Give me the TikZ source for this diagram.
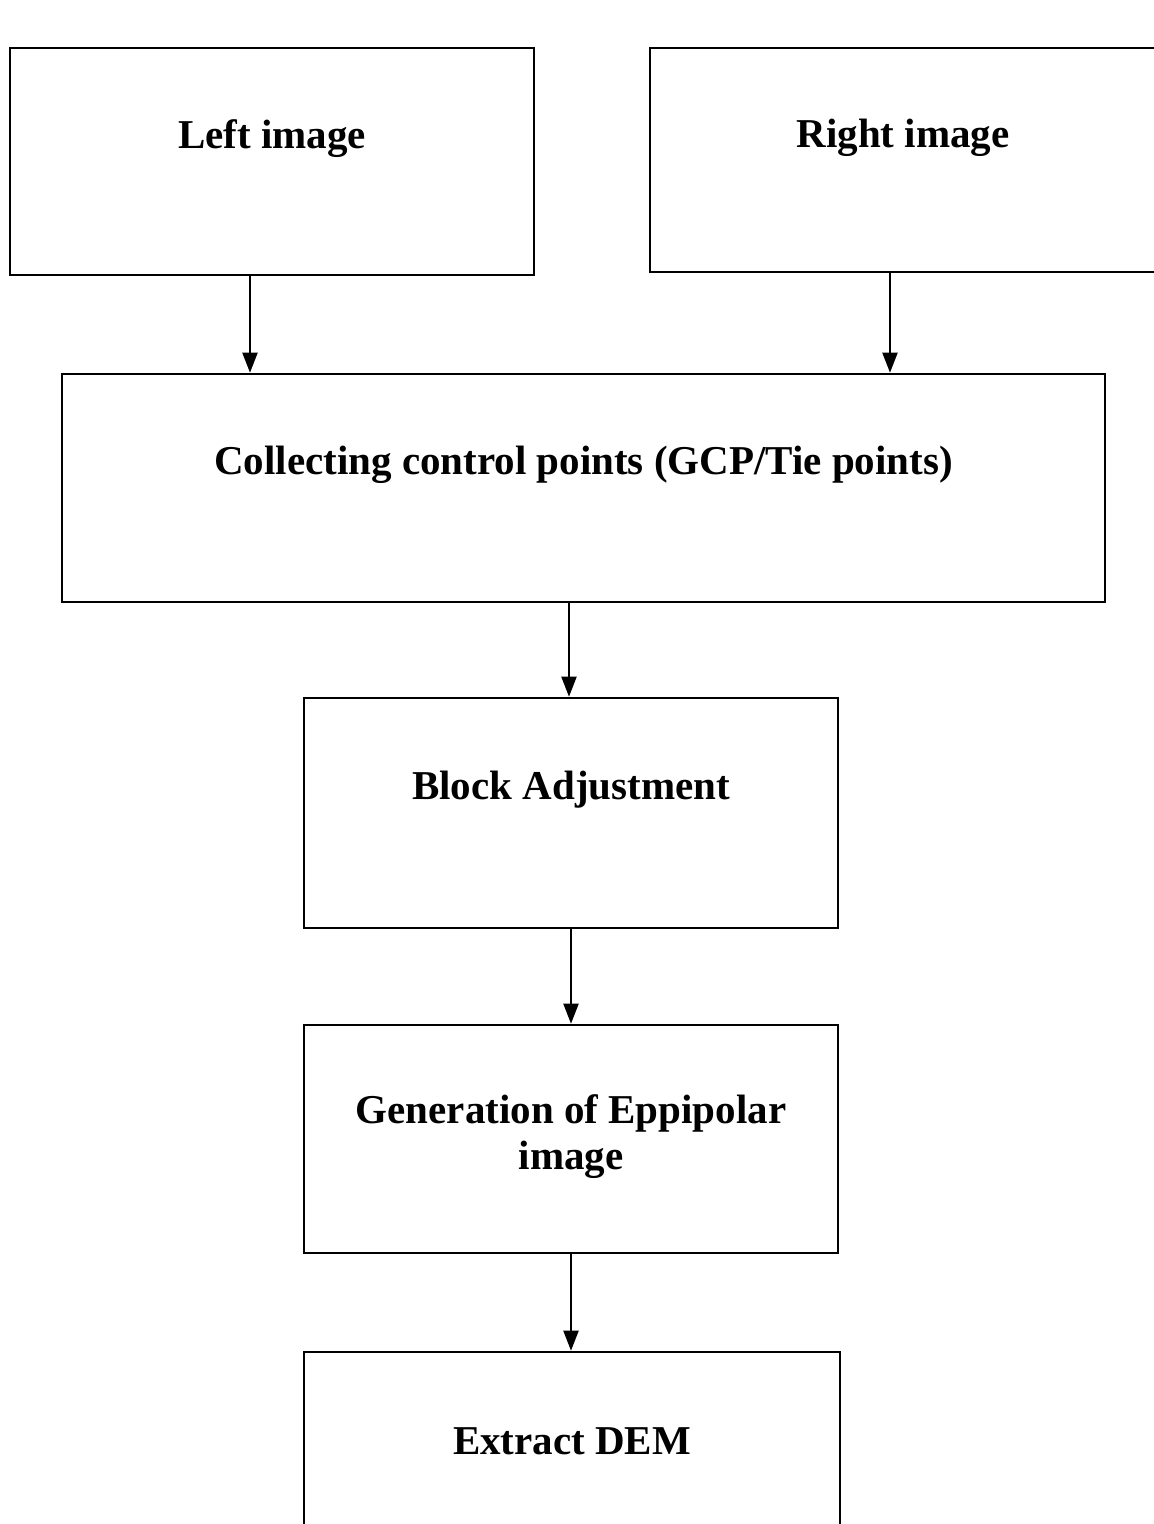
\documentclass[tikz,border=0pt]{standalone}
\usepackage{fontspec}
\setmainfont{Liberation Serif}
\usetikzlibrary{arrows.meta}
\tikzset{
  stage/.style={draw, line width=2.6pt, rectangle, inner sep=0pt},
  stagetext/.style={font=\fontsize{41}{46}\selectfont\bfseries, align=center, inner sep=0pt},
  flow/.style={line width=2pt, -{Triangle[length=20pt,width=15pt]}}
}
\begin{document}
\begin{tikzpicture}[x=1pt,y=-1pt]
    \useasboundingbox (0,0) rectangle (1154,1524);
    \clip (0,0) rectangle (1154,1524);
    % the two input images
    \node [stage, minimum width=524pt, minimum height=227pt,
           label={[stagetext,yshift=23pt]center:Left image}] (left) at (272,161.5) {};
    \node [stage, minimum width=506pt, minimum height=224pt,
           label={[stagetext,yshift=22pt]center:Right image}] (right) at (903,160) {};
    % processing chain
    \node [stage, minimum width=1043pt, minimum height=228pt,
           label={[stagetext,yshift=23pt]center:Collecting control points (GCP/Tie points)}] (collect) at (583.5,488) {};
    \node [stage, minimum width=534pt, minimum height=230pt,
           label={[stagetext,yshift=23pt]center:Block Adjustment}] (adjust) at (571,813) {};
    \node [stage, minimum width=534pt, minimum height=228pt,
           label={[stagetext,yshift=2pt]center:Generation of Eppipolar\\image}] (epipolar) at (571,1139) {};
    \node [stage, minimum width=536pt, minimum height=226pt,
           label={[stagetext,yshift=24pt]center:Extract DEM}] (dem) at (572,1465) {};
    % connectors
    \draw [flow] ([xshift=-22pt]left.south) -- ([xshift=-22pt]left.south |- collect.north);
    \draw [flow] ([xshift=-13pt]right.south) -- ([xshift=-13pt]right.south |- collect.north);
    \draw [flow] ([xshift=-2pt]adjust.north |- collect.south) -- ([xshift=-2pt]adjust.north);
    \draw [flow] (adjust.south) -- (epipolar.north);
    \draw [flow] (epipolar.south) -- (epipolar.south |- dem.north);
  \end{tikzpicture}
\end{document}
